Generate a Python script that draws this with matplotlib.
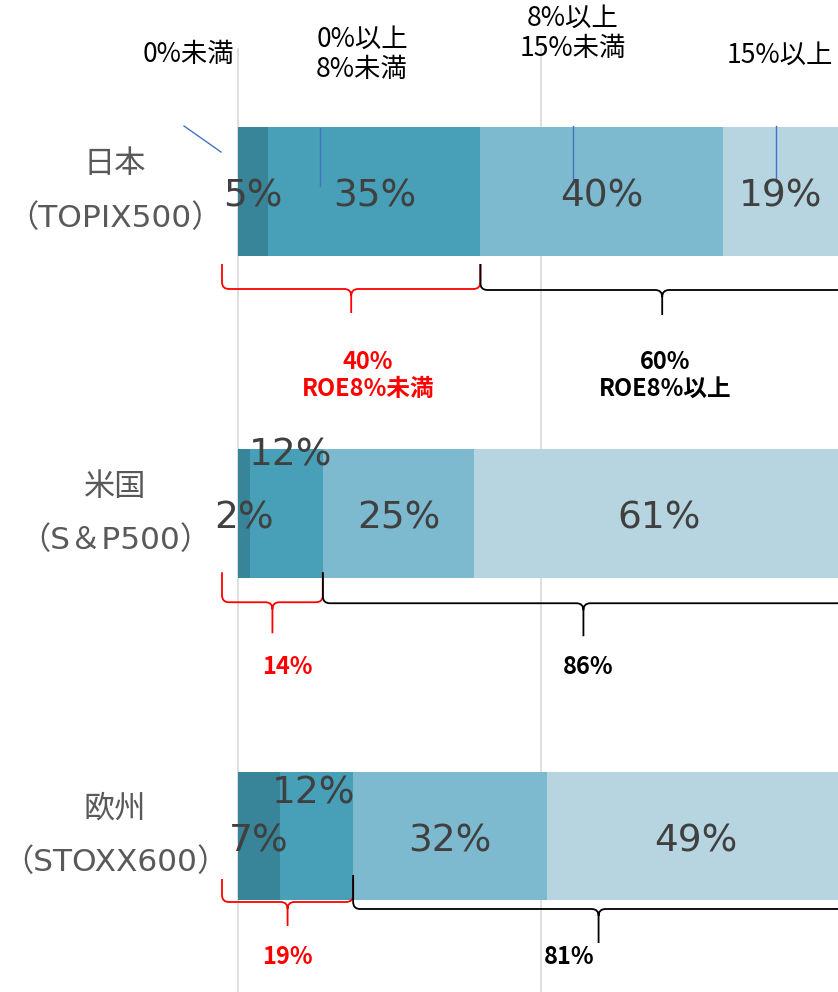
import matplotlib
matplotlib.use('Agg')
import matplotlib.pyplot as plt
from matplotlib.path import Path
from matplotlib.patches import PathPatch
import numpy as np

# ROE分布（構成比 %）
regions = ['日本\n（TOPIX500）', '米国\n（S＆P500）', '欧州\n（STOXX600）']
roe_bands = ['0%未満', '0%以上\n8%未満', '8%以上\n15%未満', '15%以上']
japan = [5, 35, 40, 19]
usa = [2, 12, 25, 61]
europe = [7, 12, 32, 49]
below_8 = [40, 14, 19]
above_8 = [60, 86, 81]

colors = ['#388499', '#47A0B8', '#7DB9CF', '#B7D5E0']

# 画面上のスケール（x: 1%あたりpx, y: 1段あたりpx）
PX_X = 6.06
PX_Y = 322.25

fig = plt.figure(figsize=(8.38, 9.92), dpi=100)
ax = fig.add_axes([238 / 838, 0, 600 / 838, (992 - 49) / 992])
ax.set_xlim(0, 600 / PX_X)
ax.set_ylim(2 + (992 - 836) / PX_Y, -(191.5 - 49) / PX_Y)

jp_font = ['DejaVu Sans', 'Noto Sans CJK JP']

# 積み上げ横棒
rows = [japan, usa, europe]
# ラベルをずらすもの (行, 区分): (dx px, dy px)
label_shift = {(1, 1): (4, -63), (2, 1): (-3, -48)}
for i, row in enumerate(rows):
    left = np.concatenate([[0], np.cumsum(row)[:-1]])
    ax.barh(i, row, left=left, height=0.4, color=colors, linewidth=0)
    for j, (l, v) in enumerate(zip(left, row)):
        dx, dy = label_shift.get((i, j), (0, 0))
        ax.text(l + v / 2 + dx / PX_X, i + (dy + 5) / PX_Y, f'{v}%',
                ha='center', va='center', fontsize=27, color='#404040',
                family='DejaVu Sans')

# 目盛線
ax.set_xticks([0, 50])
ax.grid(axis='x', color='#D9D9D9', lw=1.2)
ax.set_axisbelow(True)
for gl in ax.get_xgridlines():
    gl.set_clip_on(False)
ax.tick_params(length=0, labelbottom=False, labelleft=False)
ax.set_yticks([])
for s in ax.spines.values():
    s.set_visible(False)

# 地域名
for i, name in enumerate(regions):
    ax.text(-123 / PX_X, i, name, ha='center', va='center', fontsize=22.5,
            color='#595959', linespacing=2.0, family=jp_font, clip_on=False)

# 上部の区分名
band_pos = [(188, 55), (362, 54), (573, 33), (780, 55)]
for (px, py), band in zip(band_pos, roe_bands):
    ax.text((px - 238) / PX_X, (py - 191.5) / PX_Y, band, ha='center',
            va='center', fontsize=19, linespacing=1.15,
            family=['Noto Sans CJK JP', 'DejaVu Sans'], clip_on=False)

# 引出線
leaders = [((184, 126), (221, 152)), ((320, 128), (320, 186)),
           ((573, 126), (573, 184)), ((776, 126), (776, 182))]
for (ax0, ay0), (ax1, ay1) in leaders:
    ax.plot([(ax0 - 238) / PX_X, (ax1 - 238) / PX_X],
            [(ay0 - 191.5) / PX_Y, (ay1 - 191.5) / PX_Y],
            color='#4472C4', lw=1, clip_on=False)


def brace(x0, x1, yc, top, line, tip, color):
    r = 7
    rx, ry = r / PX_X, r / PX_Y
    top, line, tip = yc + top / PX_Y, yc + line / PX_Y, yc + tip / PX_Y
    xm = (x0 + x1) / 2
    verts = [(x0, top), (x0, line - ry), (x0, line), (x0 + rx, line),
             (xm - rx, line), (xm, line), (xm, line + ry), (xm, tip),
             (x1, top), (x1, line - ry), (x1, line), (x1 - rx, line),
             (xm + rx, line), (xm, line), (xm, line + ry)]
    codes = [Path.MOVETO, Path.LINETO, Path.CURVE3, Path.CURVE3,
             Path.LINETO, Path.CURVE3, Path.CURVE3, Path.LINETO,
             Path.MOVETO, Path.LINETO, Path.CURVE3, Path.CURVE3,
             Path.LINETO, Path.CURVE3, Path.CURVE3]
    ax.add_patch(PathPatch(Path(verts, codes), fc='none', ec=color,
                           lw=1.3, clip_on=False))
    return xm


# 波括弧の位置（棒の中心からのpx: 上端, 横線, 先端）
brace_geom = [((72.5, 97.5, 121.5), (72.5, 98.5, 123.5)),
              ((58.5, 88.5, 119.5), (58.5, 89.5, 122.5)),
              ((43, 66, 90), (39, 73, 107))]
text_geom = [(17, 3, 184), (15, 5, 153.5), (0, -29, 121)]
x_start = -16 / PX_X
for i in range(3):
    (rg, bg), (rdx, bdx, ty) = brace_geom[i], text_geom[i]
    rm = brace(x_start, below_8[i], i, *rg, color='#FF0000')
    bm = brace(below_8[i], 100, i, *bg, color='black')
    red_txt = f'{below_8[i]}%' + ('\nROE8%未満' if i == 0 else '')
    blk_txt = f'{above_8[i]}%' + ('\nROE8%以上' if i == 0 else '')
    ax.text(rm + rdx / PX_X, i + ty / PX_Y, red_txt, ha='center', va='center',
            fontsize=17, fontweight='bold', color='#FF0000',
            family=['Noto Sans CJK JP'], linespacing=1.15, clip_on=False)
    ax.text(bm + bdx / PX_X, i + ty / PX_Y, blk_txt, ha='center', va='center',
            fontsize=17, fontweight='bold', color='black',
            family=['Noto Sans CJK JP'], linespacing=1.15, clip_on=False)

fig.savefig('out.png', dpi=100)
